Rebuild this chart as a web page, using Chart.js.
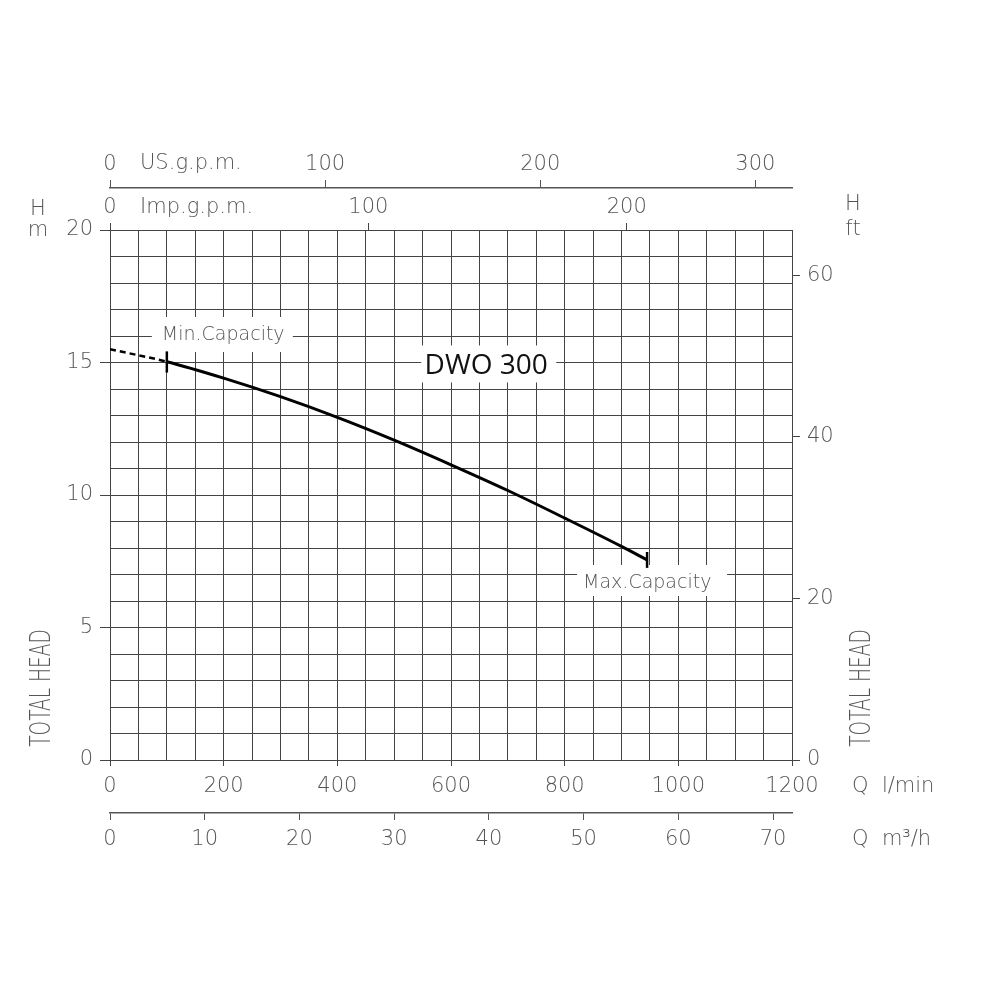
<!DOCTYPE html>
<html>
<head>
<meta charset="utf-8">
<script src="https://cdn.jsdelivr.net/npm/chart.js@4.4.1/dist/chart.umd.min.js"></script>
<style>
html, body { margin: 0; padding: 0; background: #fff; }
</style>
</head>
<body>
<canvas id="myChart" width="1000" height="1000"></canvas>
<script>
/* Courbe de la pompe DWO 300 : debit en l/min, hauteur en m */
var flow = [0, 100, 200, 300, 400, 500, 600, 700, 800, 900, 945];
var head = [15.5, 15.03, 14.41, 13.71, 12.93, 12.07, 11.14, 10.17, 9.13, 8.06, 7.55];

// petits traits verticaux Min / Max capacity
var minMarkX = [100, 100];
var minMarkY = [14.62, 15.42];
var maxMarkX = [945, 945];
var maxMarkY = [7.25, 7.85];

// graduations
var qTicks = [0, 200, 400, 600, 800, 1000, 1200];
var headTicks = [0, 5, 10, 15, 20];
var ftTicks = [0, 20, 40, 60];
var usTicks = [0, 100, 200, 300];
var impTicks = [0, 100, 200];
var m3Ticks = [0, 10, 20, 30, 40, 50, 60, 70];

var QMAX = 1200, HMAX = 20;
var US_GAL = 3.78541, IMP_GAL = 4.54609, FT = 0.3048;

var gridColor = '#444';
var textColor = '#555';
var tickFont = { family: 'DejaVu Sans', size: 21, weight: 300 };

function pts(xs, ys) {
  return xs.map(function (v, i) { return { x: v, y: ys[i] }; });
}
function setTicks(list) {
  return function (scale) {
    scale.ticks = list.map(function (v) { return { value: v }; });
  };
}

var textes = {
  id: 'textes',
  beforeDatasetsDraw: function (chart) {
    var ctx = chart.ctx, xs = chart.scales.x, ys = chart.scales.y;
    ctx.save();
    // Min.Capacity
    var px = xs.getPixelForValue(100), py = ys.getPixelForValue(16);
    ctx.fillStyle = '#fff';
    ctx.fillRect(px - 15, py - 19, 141, 35);
    ctx.fillStyle = textColor;
    ctx.font = '300 19px "DejaVu Sans"';
    ctx.textBaseline = 'middle';
    ctx.textAlign = 'left';
    ctx.fillText('Min.Capacity', px - 5, py - 1);
    // Max.Capacity
    px = xs.getPixelForValue(945); py = ys.getPixelForValue(7);
    ctx.fillStyle = '#fff';
    ctx.fillRect(px - 70, py - 9.5, 150, 31);
    ctx.fillStyle = textColor;
    ctx.fillText('Max.Capacity', px - 64, py + 8.5);
    // DWO 300
    px = xs.getPixelForValue(662); py = ys.getPixelForValue(14.85);
    ctx.fillStyle = '#fff';
    ctx.fillRect(px - 65, py - 21, 135, 37);
    ctx.fillStyle = '#111';
    ctx.font = '28px "Open Sans"';
    ctx.textAlign = 'center';
    ctx.fillText('DWO 300', px, py);
    ctx.restore();
  },
  afterDraw: function (chart) {
    var ctx = chart.ctx, a = chart.chartArea;
    ctx.save();
    ctx.fillStyle = textColor;
    ctx.font = '300 21px "DejaVu Sans"';
    ctx.textBaseline = 'middle';
    ctx.textAlign = 'left';
    ctx.fillText('US.g.p.m.', a.left + 30, a.top - 66);
    ctx.fillText('Imp.g.p.m.', a.left + 30, a.top - 22);
    ctx.fillText('Q  l/min', a.right + 60, a.bottom + 27);
    ctx.fillText('Q  m\u00b3/h', a.right + 60, a.bottom + 80);
    ctx.textAlign = 'center';
    ctx.fillText('H', 38, a.top - 20);
    ctx.fillText('m', 38, a.top + 1);
    ctx.fillText('H', a.right + 61, a.top - 25);
    ctx.fillText('ft', a.right + 61, a.top);
    // TOTAL HEAD (ecriture verticale, etroite)
    ctx.font = '300 29px "DejaVu Sans"';
    [42.5, 862].forEach(function (x) {
      ctx.save();
      ctx.translate(x, 688);
      ctx.rotate(-Math.PI / 2);
      ctx.scale(0.64, 1);
      ctx.fillText('TOTAL HEAD', 0, 0);
      ctx.restore();
    });
    ctx.restore();
  }
};

var ctx_1 = document.getElementById('myChart').getContext('2d');
var chart = new Chart(ctx_1, {
  type: 'line',
  data: {
    datasets: [{
      data: pts(flow, head),
      borderColor: '#000',
      borderWidth: 3,
      pointRadius: 0,
      cubicInterpolationMode: 'monotone',
      segment: {
        borderDash: function (c) { return c.p0DataIndex === 0 ? [6, 4] : undefined; },
        borderWidth: function (c) { return c.p0DataIndex === 0 ? 2.5 : undefined; }
      }
    }, {
      data: pts(minMarkX, minMarkY),
      borderColor: '#000',
      borderWidth: 2.5,
      pointRadius: 0
    }, {
      data: pts(maxMarkX, maxMarkY),
      borderColor: '#000',
      borderWidth: 2.5,
      pointRadius: 0
    }]
  },
  options: {
    responsive: false,
    animation: false,
    devicePixelRatio: 1,
    layout: { padding: { top: 140, bottom: 137, left: 0, right: 0 } },
    plugins: { legend: { display: false }, tooltip: { enabled: false } },
    scales: {
      x: {
        type: 'linear', position: 'bottom', weight: 0,
        min: 0, max: QMAX,
        ticks: {
          stepSize: 50, autoSkip: false, maxRotation: 0, padding: 8,
          color: textColor, font: tickFont,
          callback: function (v) { return qTicks.indexOf(v) >= 0 ? String(v) : ''; }
        },
        grid: {
          color: gridColor, lineWidth: 1, tickLength: 6,
          tickColor: function (c) { return c.tick && qTicks.indexOf(c.tick.value) >= 0 ? gridColor : 'rgba(0,0,0,0)'; }
        },
        border: { color: gridColor },
        afterFit: function (s) { s.height = 53; }
      },
      x4: {
        type: 'linear', position: 'bottom', weight: 1,
        min: 0, max: QMAX * 60 / 1000,
        afterBuildTicks: setTicks(m3Ticks),
        ticks: { autoSkip: false, maxRotation: 0, padding: 7, color: textColor, font: tickFont },
        grid: { drawOnChartArea: false, tickLength: 7, color: textColor },
        border: { color: textColor, width: 1.5 },
        afterFit: function (s) { s.height = 50; }
      },
      x2: {
        type: 'linear', position: 'top', weight: 0,
        min: 0, max: QMAX / IMP_GAL,
        afterBuildTicks: setTicks(impTicks),
        ticks: { autoSkip: false, maxRotation: 0, padding: 3, color: textColor, font: tickFont },
        grid: { drawOnChartArea: false, tickLength: 7, color: gridColor },
        border: { display: false },
        afterFit: function (s) { s.height = 42; }
      },
      x3: {
        type: 'linear', position: 'top', weight: 1,
        min: 0, max: QMAX / US_GAL,
        afterBuildTicks: setTicks(usTicks),
        ticks: { autoSkip: false, maxRotation: 0, padding: 3, color: textColor, font: tickFont },
        grid: { drawOnChartArea: false, tickLength: 8, color: textColor },
        border: { color: textColor, width: 1.5 },
        afterFit: function (s) { s.height = 48; }
      },
      y: {
        type: 'linear', position: 'left',
        min: 0, max: HMAX,
        ticks: {
          stepSize: 1, autoSkip: false, padding: 7,
          color: textColor, font: tickFont,
          callback: function (v) { return headTicks.indexOf(v) >= 0 ? String(v) : ''; }
        },
        grid: {
          color: gridColor, lineWidth: 1, tickLength: 10,
          tickColor: function (c) { return c.tick && headTicks.indexOf(c.tick.value) >= 0 ? gridColor : 'rgba(0,0,0,0)'; }
        },
        border: { color: gridColor },
        afterFit: function (s) { s.width = 110; }
      },
      y2: {
        type: 'linear', position: 'right',
        min: 0, max: HMAX / FT,
        afterBuildTicks: setTicks(ftTicks),
        ticks: { autoSkip: false, padding: 7, color: textColor, font: tickFont },
        grid: { drawOnChartArea: false, tickLength: 8, color: gridColor },
        border: { color: gridColor },
        afterFit: function (s) { s.width = 208; }
      }
    }
  },
  plugins: [textes]
});
</script>
</body>
</html>
